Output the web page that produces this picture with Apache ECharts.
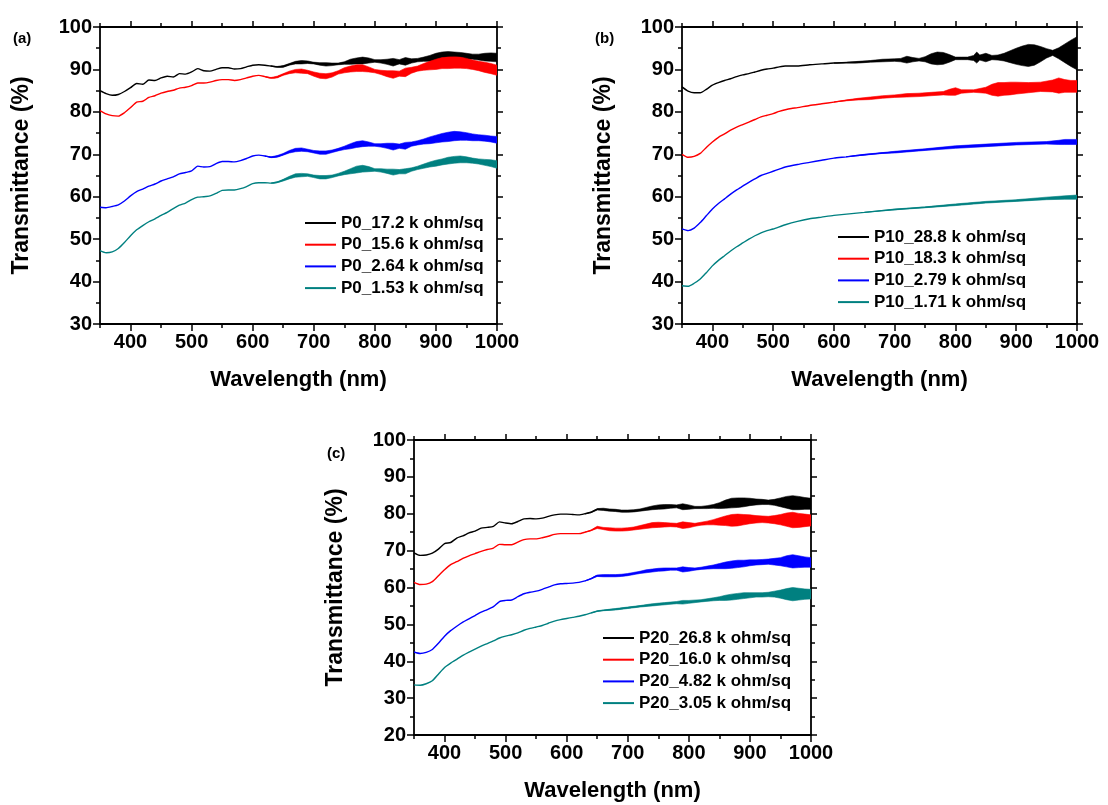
<!DOCTYPE html>
<html><head><meta charset="utf-8">
<script src="https://cdn.jsdelivr.net/npm/echarts@6/dist/echarts.min.js"></script>
<style>html,body{margin:0;padding:0;background:#fff}#c{width:1108px;height:805px}</style>
</head><body><div id="c"></div>
<script>
// ---- data: [wavelength (nm), transmittance (%), half-width of fringe noise (%)] ----
const panelLabels = ['(a)', '(b)', '(c)'];
const xTickLabels = [400, 500, 600, 700, 800, 900, 1000];
const xMinorTicks = [350, 450, 550, 650, 750, 850, 950];
const yRanges = [[30, 100], [30, 100], [20, 100]];
const namesA = ['P0_17.2 k ohm/sq', 'P0_15.6 k ohm/sq', 'P0_2.64 k ohm/sq', 'P0_1.53 k ohm/sq'];
const namesB = ['P10_28.8 k ohm/sq', 'P10_18.3 k ohm/sq', 'P10_2.79 k ohm/sq', 'P10_1.71 k ohm/sq'];
const namesC = ['P20_26.8 k ohm/sq', 'P20_16.0 k ohm/sq', 'P20_4.82 k ohm/sq', 'P20_3.05 k ohm/sq'];
const colors = ['#000000', '#ff0000', '#0000ff', '#008080'];

const p0_172 = [[350,85.0,0],[360,84.3,0],[370,83.9,0],[380,84.1,0],[390,84.8,0],[400,85.7,0],[410,86.7,0],[420,86.5,0],[430,87.5,0],[440,87.4,0],[450,88.0,0],[460,88.4,0],[470,88.2,0],[480,89.0,0],[490,88.9,0],[500,89.4,0],[510,90.2,0],[520,89.7,0],[530,89.6,0],[540,90.0,0],[550,90.4,0],[560,90.4,0],[570,90.1,0],[580,90.2,0],[590,90.6,0],[600,91.0,0],[610,91.1,0],[620,91.0,0],[630,90.8,0],[640,90.6,0.1],[650,90.7,0.2],[660,91.2,0.2],[670,91.6,0.3],[680,91.7,0.4],[690,91.7,0.3],[700,91.5,0.2],[710,91.3,0.3],[720,91.2,0.4],[730,91.2,0.3],[740,91.3,0.2],[750,91.5,0.3],[760,91.8,0.6],[770,92.0,0.7],[780,92.1,0.8],[790,92.1,0.6],[800,92.0,0.3],[810,91.9,0.4],[820,91.8,0.6],[830,91.7,0.9],[840,91.8,0.5],[850,91.9,0.9],[860,92.0,0.5],[870,92.2,0.4],[880,92.4,0.5],[890,92.6,0.7],[900,92.9,0.9],[910,93.1,1.0],[920,93.2,1.0],[930,93.2,0.9],[940,93.2,0.8],[950,93.1,0.7],[960,93.0,0.6],[970,92.9,0.7],[980,92.9,0.9],[990,92.9,1.0],[1000,92.8,1.0]];
const p0_156 = [[350,80.3,0],[360,79.5,0],[370,79.1,0],[380,79.0,0],[390,79.8,0],[400,81.0,0],[410,82.3,0],[420,82.5,0],[430,83.4,0],[440,83.8,0],[450,84.4,0],[460,84.8,0],[470,85.1,0],[480,85.6,0],[490,85.8,0],[500,86.2,0],[510,86.8,0],[520,86.8,0],[530,87.0,0],[540,87.4,0],[550,87.6,0],[560,87.6,0],[570,87.4,0],[580,87.6,0],[590,88.0,0],[600,88.4,0],[610,88.6,0],[620,88.3,0],[630,88.0,0.1],[640,88.2,0.2],[650,88.8,0.2],[660,89.3,0.3],[670,89.6,0.4],[680,89.6,0.5],[690,89.4,0.4],[700,88.9,0.5],[710,88.5,0.6],[720,88.4,0.6],[730,88.7,0.5],[740,89.3,0.4],[750,89.8,0.6],[760,90.1,0.7],[770,90.3,0.8],[780,90.3,0.8],[790,90.0,0.6],[800,89.6,0.4],[810,89.3,0.5],[820,89.0,0.7],[830,88.8,0.9],[840,89.0,0.6],[850,89.3,1.0],[860,89.8,0.7],[870,90.2,0.6],[880,90.6,0.8],[890,90.9,1.0],[900,91.2,1.2],[910,91.5,1.3],[920,91.6,1.4],[930,91.7,1.4],[940,91.6,1.3],[950,91.4,1.2],[960,91.1,1.1],[970,90.8,1.1],[980,90.5,1.2],[990,90.2,1.2],[1000,89.8,1.2]];
const p0_264 = [[350,57.5,0],[360,57.4,0],[370,57.7,0],[380,58.1,0],[390,59.0,0],[400,60.2,0],[410,61.2,0],[420,61.8,0],[430,62.5,0],[440,63.0,0],[450,63.7,0],[460,64.2,0],[470,64.7,0],[480,65.4,0],[490,65.7,0],[500,66.1,0],[510,67.2,0],[520,67.0,0],[530,67.1,0],[540,67.8,0],[550,68.3,0],[560,68.3,0],[570,68.2,0],[580,68.5,0],[590,69.0,0],[600,69.6,0],[610,69.8,0],[620,69.6,0],[630,69.3,0.1],[640,69.5,0.2],[650,70.0,0.2],[660,70.6,0.3],[670,71.0,0.4],[680,71.1,0.4],[690,70.9,0.3],[700,70.6,0.3],[710,70.4,0.4],[720,70.4,0.4],[730,70.7,0.3],[740,71.1,0.3],[750,71.5,0.4],[760,71.9,0.6],[770,72.3,0.7],[780,72.5,0.7],[790,72.4,0.5],[800,72.2,0.3],[810,72.1,0.4],[820,72.0,0.6],[830,71.8,0.8],[840,71.9,0.5],[850,72.0,0.8],[860,72.4,0.5],[870,72.7,0.5],[880,73.0,0.6],[890,73.3,0.8],[900,73.6,0.9],[910,73.9,1.0],[920,74.1,1.1],[930,74.3,1.1],[940,74.3,1.0],[950,74.2,0.9],[960,74.0,0.8],[970,73.9,0.7],[980,73.8,0.7],[990,73.6,0.7],[1000,73.4,0.8]];
const p0_153 = [[350,47.3,0],[360,46.8,0],[370,47.0,0],[380,47.8,0],[390,49.2,0],[400,50.8,0],[410,52.2,0],[420,53.2,0],[430,54.1,0],[440,54.8,0],[450,55.6,0],[460,56.3,0],[470,57.2,0],[480,58.0,0],[490,58.5,0],[500,59.3,0],[510,59.9,0],[520,60.0,0],[530,60.2,0],[540,60.8,0],[550,61.5,0],[560,61.6,0],[570,61.6,0],[580,61.9,0],[590,62.4,0],[600,63.1,0],[610,63.3,0],[620,63.3,0],[630,63.2,0],[640,63.4,0.1],[650,63.9,0.2],[660,64.5,0.3],[670,65.0,0.4],[680,65.1,0.4],[690,65.1,0.3],[700,64.8,0.3],[710,64.6,0.4],[720,64.6,0.4],[730,64.8,0.3],[740,65.2,0.3],[750,65.6,0.4],[760,66.0,0.6],[770,66.4,0.8],[780,66.6,0.8],[790,66.5,0.6],[800,66.3,0.3],[810,66.2,0.4],[820,66.0,0.5],[830,65.8,0.7],[840,65.9,0.5],[850,66.0,0.6],[860,66.4,0.4],[870,66.8,0.4],[880,67.2,0.5],[890,67.6,0.6],[900,67.9,0.7],[910,68.2,0.7],[920,68.5,0.8],[930,68.7,0.8],[940,68.8,0.8],[950,68.7,0.7],[960,68.5,0.6],[970,68.3,0.6],[980,68.1,0.7],[990,67.9,0.8],[1000,67.6,0.9]];

const p10_288 = [[350,85.9,0],[360,84.9,0],[370,84.5,0],[380,84.5,0],[390,85.3,0],[400,86.3,0],[410,86.9,0],[420,87.4,0],[430,87.8,0],[440,88.3,0],[450,88.7,0],[460,89.0,0],[470,89.4,0],[480,89.8,0],[490,90.1,0],[500,90.3,0],[510,90.6,0],[520,90.8,0],[530,90.8,0],[540,90.8,0],[560,91.1,0],[580,91.3,0],[600,91.5,0],[620,91.6,0.1],[640,91.7,0.2],[660,91.9,0.2],[680,92.1,0.3],[700,92.2,0.3],[710,92.2,0.4],[720,92.3,0.8],[730,92.3,0.5],[740,92.3,0.3],[750,92.4,0.6],[760,92.5,1.2],[770,92.6,1.5],[780,92.6,1.4],[790,92.6,0.9],[800,92.6,0.3],[810,92.6,0.3],[820,92.6,0.3],[830,92.7,0.6],[835,92.8,1.3],[840,92.8,0.6],[850,92.8,1.0],[860,92.8,0.5],[870,92.8,0.6],[880,92.9,0.9],[890,93.0,1.4],[900,93.1,1.9],[910,93.2,2.3],[920,93.3,2.6],[930,93.4,2.4],[940,93.6,1.8],[950,93.8,1.1],[960,93.9,0.6],[970,93.8,1.3],[980,93.8,2.2],[990,93.8,3.1],[1000,93.8,3.9]];
const p10_183 = [[350,70.0,0],[360,69.3,0],[370,69.5,0],[380,70.2,0],[390,71.6,0],[400,72.9,0],[410,74.0,0],[420,74.8,0],[430,75.7,0],[440,76.4,0],[450,77.0,0],[460,77.6,0],[470,78.2,0],[480,78.8,0],[490,79.2,0],[500,79.6,0],[510,80.1,0],[520,80.5,0],[530,80.8,0],[540,81.0,0],[560,81.5,0],[580,81.9,0],[600,82.3,0],[620,82.7,0.1],[640,83.0,0.2],[660,83.2,0.3],[680,83.5,0.3],[700,83.7,0.3],[720,83.9,0.4],[740,84.0,0.4],[760,84.2,0.4],[780,84.4,0.4],[790,84.6,0.7],[800,84.8,0.9],[810,84.8,0.4],[830,84.9,0.3],[850,85.1,0.7],[860,85.2,1.3],[870,85.3,1.6],[880,85.4,1.5],[890,85.5,1.5],[900,85.6,1.4],[920,85.7,1.2],[940,85.9,1.1],[960,86.1,1.4],[970,86.2,1.8],[980,86.1,1.5],[990,86.0,1.4],[1000,86.0,1.4]];
const p10_279 = [[350,52.4,0],[360,52.0,0],[370,52.6,0],[380,53.9,0],[390,55.5,0],[400,57.1,0],[410,58.4,0],[420,59.5,0],[430,60.6,0],[440,61.6,0],[450,62.5,0],[460,63.4,0],[470,64.2,0],[480,65.0,0],[490,65.5,0],[500,66.0,0],[510,66.5,0],[520,67.0,0],[540,67.6,0],[560,68.1,0],[580,68.6,0],[600,69.1,0],[620,69.4,0],[650,69.9,0.1],[680,70.3,0.1],[700,70.5,0.2],[750,71.1,0.2],[800,71.7,0.3],[850,72.1,0.3],[900,72.5,0.3],[950,72.7,0.3],[970,72.8,0.5],[980,72.9,0.6],[1000,72.9,0.6]];
const p10_171 = [[350,39.0,0],[360,38.9,0],[370,39.6,0],[380,40.6,0],[390,42.1,0],[400,43.7,0],[410,45.0,0],[420,46.1,0],[430,47.2,0],[440,48.2,0],[450,49.1,0],[460,50.0,0],[470,50.8,0],[480,51.5,0],[490,52.0,0],[500,52.4,0],[520,53.4,0],[540,54.2,0],[560,54.8,0],[580,55.2,0],[600,55.6,0],[650,56.3,0],[700,57.0,0.1],[750,57.5,0.1],[800,58.1,0.2],[850,58.7,0.2],[900,59.1,0.2],[950,59.6,0.3],[980,59.8,0.4],[1000,59.9,0.5]];

const p20_268 = [[350,69.4,0],[360,68.7,0],[370,68.8,0],[380,69.3,0],[390,70.4,0],[400,71.9,0],[410,72.2,0],[420,73.4,0],[430,74.0,0],[440,74.8,0],[450,75.3,0],[460,76.1,0],[470,76.3,0],[480,76.6,0],[490,77.8,0],[500,77.5,0],[510,77.3,0],[520,77.9,0],[530,78.6,0],[540,78.7,0],[550,78.6,0],[560,78.8,0],[570,79.3,0],[580,79.7,0],[590,79.9,0],[600,79.9,0],[610,79.8,0],[620,79.7,0],[630,80.0,0],[640,80.4,0.1],[650,81.2,0.2],[660,81.2,0.3],[670,81.0,0.3],[680,80.9,0.3],[690,80.7,0.3],[700,80.7,0.3],[710,80.8,0.3],[720,81.0,0.3],[730,81.3,0.4],[740,81.6,0.5],[750,81.8,0.6],[760,81.9,0.6],[770,82.0,0.5],[780,82.0,0.4],[790,81.9,0.8],[800,81.8,0.6],[810,81.7,0.3],[820,81.7,0.3],[830,81.8,0.4],[840,82.0,0.5],[850,82.2,0.8],[860,82.6,1.1],[870,82.9,1.3],[880,83.0,1.3],[890,83.1,1.2],[900,83.2,1.0],[910,83.2,0.8],[920,83.2,0.7],[930,83.1,0.6],[940,83.1,0.8],[950,83.1,1.2],[960,83.1,1.6],[970,83.0,1.9],[980,82.9,1.8],[990,82.8,1.6],[1000,82.7,1.5]];
const p20_160 = [[350,61.4,0],[360,60.8,0],[370,60.9,0],[380,61.6,0],[390,63.2,0],[400,64.8,0],[410,66.2,0],[420,67.0,0],[430,67.9,0],[440,68.6,0],[450,69.2,0],[460,69.8,0],[470,70.3,0],[480,70.7,0],[490,71.7,0],[500,71.6,0],[510,71.6,0],[520,72.3,0],[530,73.0,0],[540,73.2,0],[550,73.2,0],[560,73.5,0],[570,73.9,0],[580,74.4,0],[590,74.6,0],[600,74.6,0],[610,74.6,0],[620,74.6,0],[630,75.0,0],[640,75.5,0.1],[650,76.3,0.3],[660,76.0,0.3],[670,75.8,0.4],[680,75.7,0.4],[690,75.7,0.4],[700,75.8,0.4],[710,76.0,0.4],[720,76.3,0.5],[730,76.6,0.6],[740,76.9,0.7],[750,77.0,0.7],[760,77.0,0.6],[770,77.0,0.5],[780,76.9,0.5],[790,76.9,0.9],[800,76.9,0.7],[810,77.0,0.4],[820,77.3,0.4],[830,77.5,0.5],[840,77.7,0.7],[850,77.9,1.0],[860,78.1,1.3],[870,78.2,1.6],[880,78.3,1.6],[890,78.4,1.4],[900,78.5,1.2],[910,78.5,1.0],[920,78.5,0.9],[930,78.4,0.9],[940,78.4,1.1],[950,78.4,1.4],[960,78.4,1.8],[970,78.3,2.1],[980,78.2,1.9],[990,78.2,1.7],[1000,78.2,1.5]];
const p20_482 = [[350,42.5,0],[360,42.1,0],[370,42.4,0],[380,43.2,0],[390,44.9,0],[400,46.8,0],[410,48.3,0],[420,49.5,0],[430,50.6,0],[440,51.5,0],[450,52.4,0],[460,53.3,0],[470,54.0,0],[480,54.8,0],[490,56.2,0],[500,56.5,0],[510,56.6,0],[520,57.5,0],[530,58.3,0],[540,58.7,0],[550,59.0,0],[560,59.5,0],[570,60.1,0],[580,60.7,0],[590,61.0,0],[600,61.1,0],[610,61.2,0],[620,61.4,0],[630,61.8,0],[640,62.4,0.1],[650,63.2,0.2],[660,63.2,0.3],[670,63.2,0.3],[680,63.2,0.3],[690,63.3,0.3],[700,63.5,0.3],[710,63.8,0.3],[720,64.1,0.3],[730,64.4,0.4],[740,64.6,0.4],[750,64.8,0.4],[760,64.9,0.4],[770,65.0,0.3],[780,65.0,0.3],[790,64.9,0.7],[800,64.9,0.5],[810,65.0,0.3],[820,65.2,0.3],[830,65.4,0.4],[840,65.6,0.5],[850,65.8,0.7],[860,66.0,0.9],[870,66.2,1.0],[880,66.4,1.0],[890,66.5,0.9],[900,66.7,0.8],[910,66.8,0.7],[920,66.9,0.7],[930,67.0,0.7],[940,67.0,0.9],[950,67.0,1.1],[960,67.1,1.5],[970,67.1,1.8],[980,67.0,1.6],[990,66.9,1.4],[1000,66.8,1.3]];
const p20_305 = [[350,33.6,0],[360,33.5,0],[370,33.9,0],[380,34.7,0],[390,36.5,0],[400,38.3,0],[410,39.5,0],[420,40.5,0],[430,41.6,0],[440,42.5,0],[450,43.3,0],[460,44.1,0],[470,44.8,0],[480,45.5,0],[490,46.3,0],[500,46.8,0],[510,47.2,0],[520,47.7,0],[530,48.4,0],[540,48.9,0],[550,49.3,0],[560,49.7,0],[570,50.3,0],[580,50.9,0],[590,51.3,0],[600,51.6,0],[610,51.9,0],[620,52.2,0],[630,52.6,0],[640,53.1,0],[650,53.6,0.1],[660,53.8,0.1],[680,54.1,0.2],[700,54.5,0.2],[720,54.9,0.2],[740,55.3,0.3],[760,55.6,0.3],[780,55.9,0.3],[790,56.0,0.5],[800,56.1,0.4],[820,56.4,0.3],[840,56.8,0.4],[850,57.0,0.5],[860,57.2,0.7],[870,57.4,0.8],[880,57.6,0.8],[890,57.8,0.8],[900,57.9,0.7],[910,58.0,0.6],[920,58.0,0.6],[930,58.1,0.6],[940,58.2,0.8],[950,58.2,1.1],[960,58.2,1.5],[970,58.2,1.8],[980,58.2,1.6],[990,58.2,1.4],[1000,58.2,1.3]];

const panels = [
  { names: namesA, data: [p0_172, p0_156, p0_264, p0_153] },
  { names: namesB, data: [p10_288, p10_183, p10_279, p10_171] },
  { names: namesC, data: [p20_268, p20_160, p20_482, p20_305] }
];

// ---- layout / style ----
const FONT = '"Liberation Sans", Arial, sans-serif';
const grids = [
  { left: 100, top: 27, width: 397, height: 297 },
  { left: 682, top: 27, width: 395, height: 297 },
  { left: 414, top: 440, width: 397, height: 295 }
];
const legendPos = [
  { left: 305, top: 213 },
  { left: 838, top: 227 },
  { left: 603, top: 628 }
];
const labelPos = [
  { left: 13, top: 31 }, { left: 595, top: 31 }, { left: 327, top: 446 }
];
const AXC = '#000';
const xAxes = [], yAxes = [], series = [], legends = [], graphics = [];

grids.forEach((g, gi) => {
  const base = { gridIndex: gi, type: 'value', min: 350, max: 1000, interval: 50, splitLine: { show: false } };
  const lineStyle = { color: AXC, width: 1.8 };
  xAxes.push(Object.assign({}, base, {
    position: 'bottom',
    name: 'Wavelength (nm)', nameLocation: 'middle', nameGap: 45,
    nameTextStyle: { fontFamily: FONT, fontWeight: 'bold', fontSize: 22, color: '#000' },
    axisLine: { show: true, onZero: false, lineStyle },
    axisTick: { show: true, inside: false, length: 7, customValues: xTickLabels, lineStyle: { color: AXC, width: 1.5 } },
    axisLabel: { show: true, margin: 8, customValues: xTickLabels, fontFamily: FONT, fontWeight: 'bold', fontSize: 20, color: '#000',
      formatter: v => (v % 100 === 0 ? String(v) : '') }
  }));
  xAxes.push(Object.assign({}, base, {
    position: 'bottom',
    axisLine: { show: false, onZero: false },
    axisTick: { show: true, inside: false, length: 4, customValues: xMinorTicks, lineStyle: { color: AXC, width: 1.5 } },
    axisLabel: { show: false }
  }));
  xAxes.push(Object.assign({}, base, {
    position: 'top',
    axisLine: { show: true, onZero: false, lineStyle },
    axisTick: { show: true, inside: false, length: 6, customValues: xTickLabels, lineStyle: { color: AXC, width: 1.5 } },
    axisLabel: { show: false }
  }));
  xAxes.push(Object.assign({}, base, {
    position: 'top',
    axisLine: { show: false, onZero: false },
    axisTick: { show: true, inside: false, length: 4, customValues: xMinorTicks, lineStyle: { color: AXC, width: 1.5 } },
    axisLabel: { show: false }
  }));
  const yb = { gridIndex: gi, type: 'value', min: yRanges[gi][0], max: yRanges[gi][1], interval: 10, splitLine: { show: false },
    minorTick: { show: true, splitNumber: 2, length: 4, lineStyle: { color: AXC, width: 1.5 } } };
  yAxes.push(Object.assign({}, yb, {
    position: 'left',
    name: 'Transmittance (%)', nameLocation: 'middle', nameGap: 67, nameRotate: 90,
    nameTextStyle: { fontFamily: FONT, fontWeight: 'bold', fontSize: 23, color: '#000' },
    axisLine: { show: true, onZero: false, lineStyle },
    axisTick: { show: true, inside: false, length: 7, lineStyle: { color: AXC, width: 1.5 } },
    axisLabel: { show: true, margin: 8, fontFamily: FONT, fontWeight: 'bold', fontSize: 20, color: '#000' }
  }));
  yAxes.push(Object.assign({}, yb, {
    position: 'right',
    axisLine: { show: true, onZero: false, lineStyle },
    axisTick: { show: true, inside: false, length: 6, lineStyle: { color: AXC, width: 1.5 } },
    axisLabel: { show: false }
  }));

  const p = panels[gi];
  p.data.forEach((arr, si) => {
    const color = colors[si];
    const first = arr.findIndex(d => d[2] > 0);
    const bandPts = arr.slice(Math.max(0, first - 1));
    series.push({
      type: 'custom', xAxisIndex: gi * 4, yAxisIndex: gi * 2, silent: true, clip: true,
      data: [[bandPts[0][0], bandPts[0][1]]],
      renderItem: function (params, api) {
        const up = bandPts.map(d => api.coord([d[0], d[1] + d[2]]));
        const lo = bandPts.slice().reverse().map(d => api.coord([d[0], d[1] - d[2]]));
        return { type: 'polygon', shape: { points: up.concat(lo) }, style: { fill: color, stroke: color, lineWidth: 0.6 } };
      }
    });
    series.push({
      type: 'line', name: p.names[si], xAxisIndex: gi * 4, yAxisIndex: gi * 2,
      data: arr.map(d => [d[0], d[1]]), showSymbol: false, symbol: 'none', smooth: 0.2,
      lineStyle: { color, width: 1.4 }, itemStyle: { color }, silent: true
    });
  });

  legends.push({
    data: p.names, orient: 'vertical', left: legendPos[gi].left, top: legendPos[gi].top,
    padding: 0, itemGap: 1.7, itemWidth: 31, itemHeight: 2, icon: 'rect', selectedMode: false,
    textStyle: { fontFamily: FONT, fontWeight: 'bold', fontSize: 17, color: '#000', lineHeight: 20 }
  });

  graphics.push({
    type: 'text', left: labelPos[gi].left, top: labelPos[gi].top,
    style: { text: panelLabels[gi], font: 'bold 15px ' + FONT, fill: '#000' }
  });
});

const chart = echarts.init(document.getElementById('c'), null, { renderer: 'canvas' });
chart.setOption({
  animation: false,
  backgroundColor: '#fff',
  grid: grids,
  xAxis: xAxes,
  yAxis: yAxes,
  legend: legends,
  graphic: graphics,
  series
});
</script>
</body></html>
